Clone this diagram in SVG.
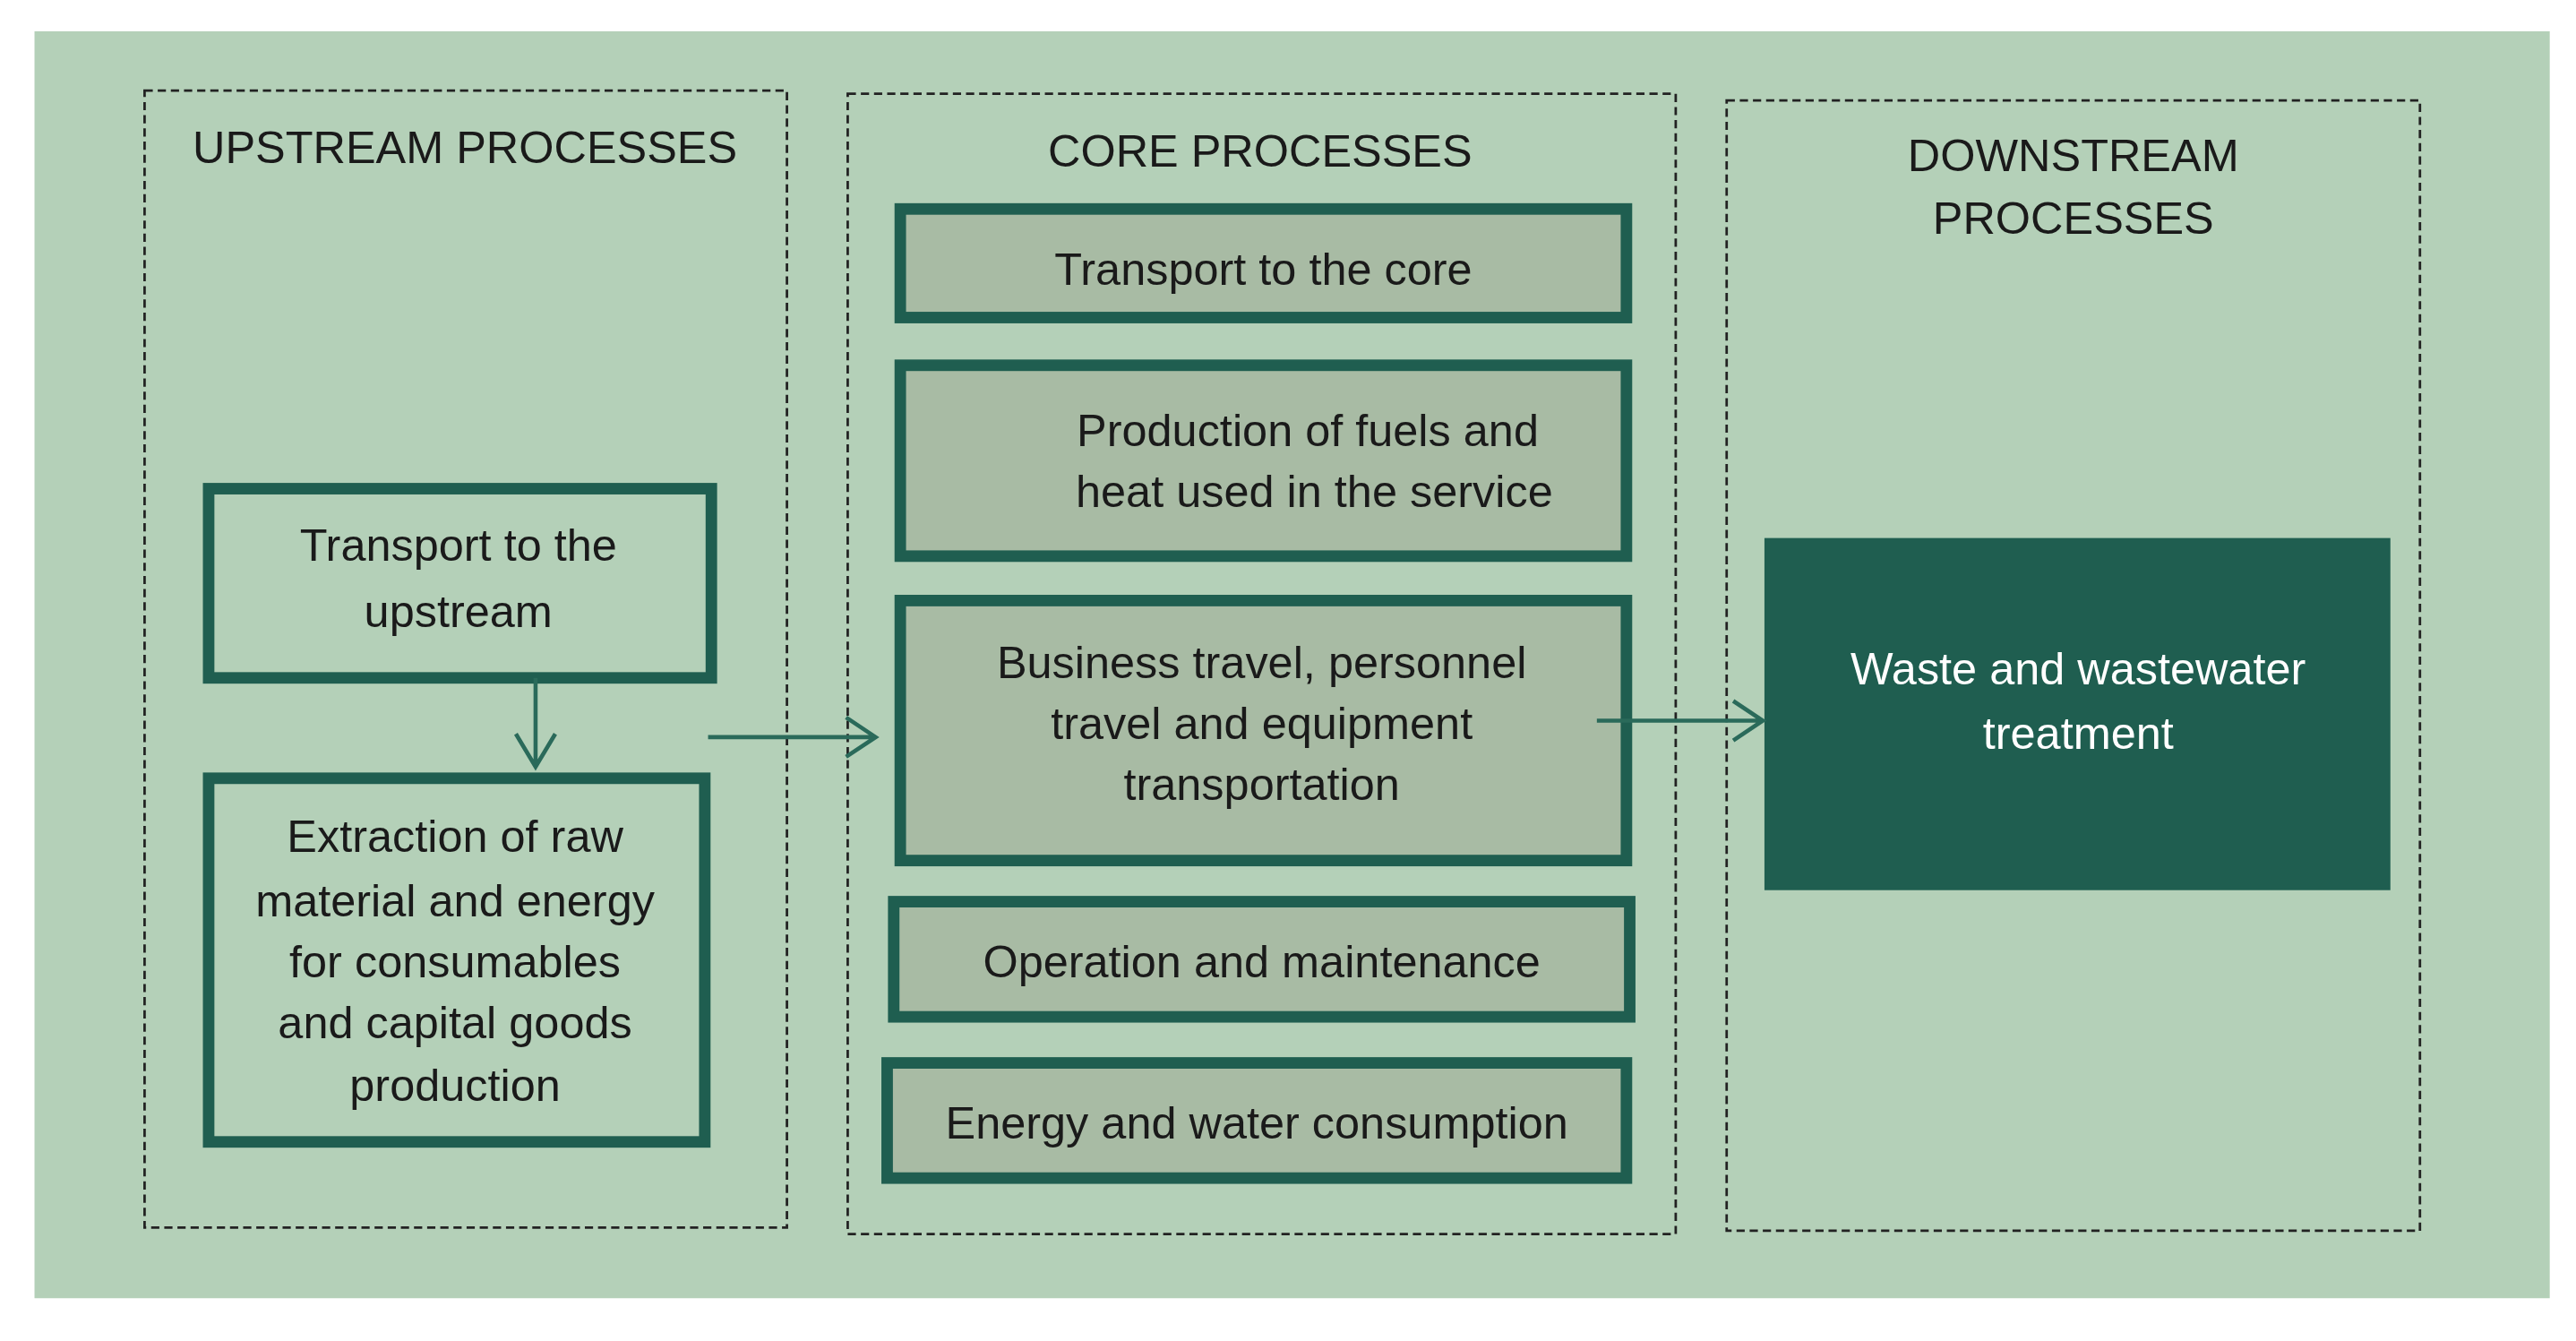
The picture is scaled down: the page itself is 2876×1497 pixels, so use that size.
<svg xmlns="http://www.w3.org/2000/svg" width="2876" height="1497" viewBox="0 0 2876 1497">
<style>
text{font-family:"Liberation Sans",Arial,sans-serif;font-size:27.5px;fill:#1a1a1a;text-anchor:middle}
.grp{fill:none;stroke:#222;stroke-width:1.5;stroke-dasharray:5,3}
.n{fill:#a8bba4;stroke:#1f5e50;stroke-width:7}
.n2{fill:#b4d0b8;stroke:#1f5e50;stroke-width:7}
.c{fill:none;stroke:#2a6a5a;stroke-width:2.5}
</style>
<rect width="2876" height="1497" fill="#fff"/>
<g transform="scale(1.8342,1.8368)">
<rect x="21" y="19" width="1531" height="770" fill="#b4d0b8"/>
<g id="upstream"><rect class="grp" x="88" y="55" width="391" height="691"/><text x="283" y="99">UPSTREAM PROCESSES</text></g>
<g id="core"><rect class="grp" x="516" y="57" width="504" height="693"/><text x="767" y="101">CORE PROCESSES</text></g>
<g id="downstream"><rect class="grp" x="1051" y="61" width="422" height="687"/><text x="1262" y="104">DOWNSTREAM</text><text x="1262" y="142">PROCESSES</text></g>
<g id="n_transport_up"><rect class="n2" x="127" y="297" width="306" height="115"/><text x="279" y="341">Transport to the</text><text x="279" y="381">upstream</text></g>
<g id="n_extraction"><rect class="n2" x="127" y="473" width="302" height="221"/><text x="277" y="518">Extraction of raw</text><text x="277" y="557">material and energy</text><text x="277" y="594">for consumables</text><text x="277" y="631">and capital goods</text><text x="277" y="669">production</text></g>
<g id="n_transport_core"><rect class="n" x="548" y="127" width="442" height="66"/><text x="769" y="173">Transport to the core</text></g>
<g id="n_production"><rect class="n" x="548" y="222" width="442" height="116"/><text x="796" y="271">Production of fuels and</text><text x="800" y="308">heat used in the service</text></g>
<g id="n_business"><rect class="n" x="548" y="365" width="442" height="158"/><text x="768" y="412">Business travel, personnel</text><text x="768" y="449">travel and equipment</text><text x="768" y="486">transportation</text></g>
<g id="n_operation"><rect class="n" x="544" y="548" width="448" height="70"/><text x="768" y="594">Operation and maintenance</text></g>
<g id="n_energy"><rect class="n" x="540" y="646" width="450" height="70"/><text x="765" y="692">Energy and water consumption</text></g>
<g id="n_waste"><rect x="1074" y="327" width="381" height="214" fill="#1f5e50"/><text x="1265" y="416" style="fill:#fff">Waste and wastewater</text><text x="1265" y="455" style="fill:#fff">treatment</text></g>
<g id="connectors">
<path class="c" d="M326 412V466M314 446L326 466L338 446"/>
<path class="c" d="M431 448H533M515 436L533 448L515 460"/>
<path class="c" d="M972 438H1073M1055 426L1073 438L1055 450"/>
</g>
</g>
</svg>
